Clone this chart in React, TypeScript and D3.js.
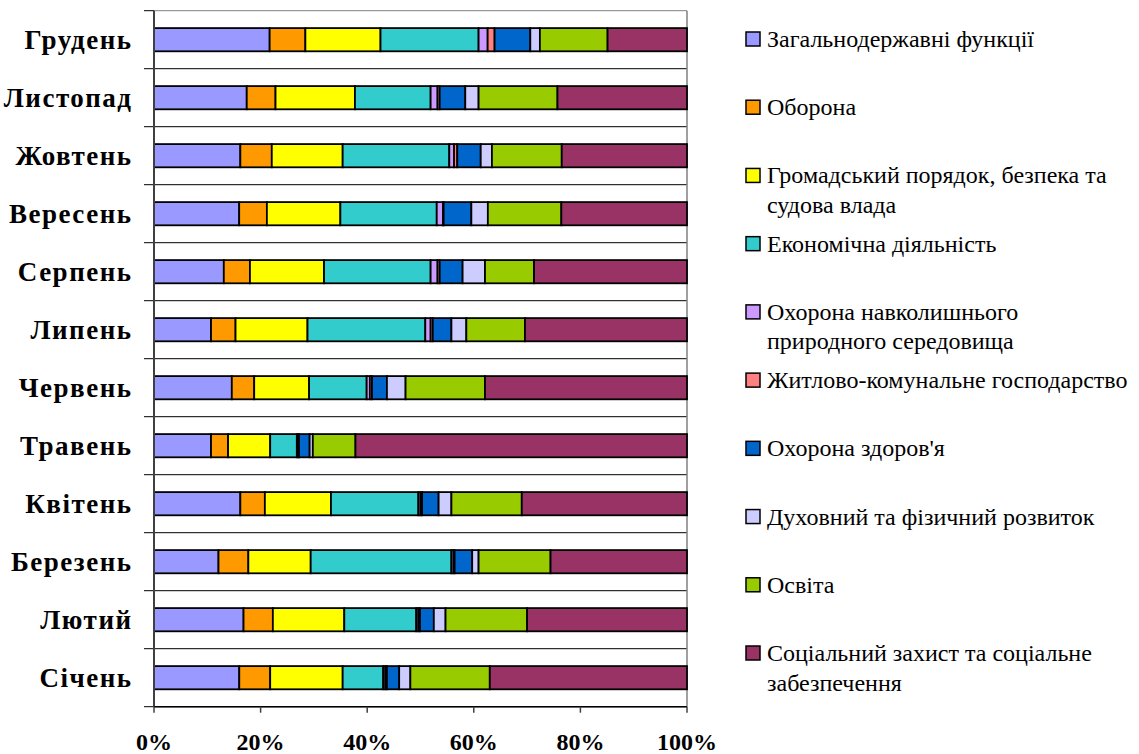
import React from "react";
import * as d3 from "d3";

const months = ["Січень", "Лютий", "Березень", "Квітень", "Травень", "Червень", "Липень", "Серпень", "Вересень", "Жовтень", "Листопад", "Грудень"];

const categories = [
  ["Загальнодержавні функції"],
  ["Оборона"],
  ["Громадський порядок, безпека та", "судова влада"],
  ["Економічна діяльність"],
  ["Охорона навколишнього", "природного середовища"],
  ["Житлово-комунальне господарство"],
  ["Охорона здоров'я"],
  ["Духовний та фізичний розвиток"],
  ["Освіта"],
  ["Соціальний захист та соціальне", "забезпечення"],
];

const colors = ["#9999FF", "#FF9900", "#FFFF00", "#33CCCC", "#CC99FF", "#FF8080", "#0066CC", "#CCCCFF", "#99CC00", "#993366"];

const zagalni = [16.0, 16.8, 12.1, 16.2, 10.7, 14.6, 10.7, 13.1, 16.0, 16.2, 17.4, 21.7];
const oborona = [5.8, 5.5, 5.6, 4.6, 3.2, 4.2, 4.6, 4.9, 5.2, 5.9, 5.4, 6.7];
const hromadskyi = [13.6, 13.4, 11.7, 12.4, 7.9, 10.3, 13.5, 13.9, 13.8, 13.3, 14.9, 14.1];
const ekonomichna = [7.6, 13.5, 26.4, 16.4, 5.0, 10.8, 22.1, 20.0, 18.1, 20.0, 14.2, 18.4];
const dovkillia = [0.4, 0.4, 0.4, 0.4, 0.3, 0.6, 1.0, 1.3, 1.2, 0.9, 1.3, 1.7];
const zhytlovo = [0.3, 0.3, 0.2, 0.3, 0.1, 0.4, 0.4, 0.4, 0.1, 0.6, 0.4, 1.3];
const zdorovia = [2.3, 2.6, 3.3, 3.1, 2.0, 2.8, 3.5, 4.3, 5.2, 4.4, 4.8, 6.7];
const dukhovnyi = [2.1, 2.2, 1.2, 2.4, 0.6, 3.5, 2.8, 4.2, 3.1, 2.1, 2.5, 1.8];
const osvita = [14.9, 15.3, 13.5, 13.2, 8.0, 14.9, 11.0, 9.2, 13.8, 13.1, 14.8, 12.7];
const sotsialnyi = [37.0, 30.0, 25.6, 31.0, 62.2, 37.9, 30.4, 28.7, 23.6, 23.5, 24.3, 14.9];

const seriesValues = [zagalni, oborona, hromadskyi, ekonomichna, dovkillia, zhytlovo, zdorovia, dukhovnyi, osvita, sotsialnyi];

const xTicks = [0, 0.2, 0.4, 0.6, 0.8, 1];

export default function App() {
  const W = 1139, H = 754;
  const left = 154, right = 687, top = 10.7, bottom = 706.7;

  const keys = categories.map((_, i) => "s" + i);
  const rows = months.map((m, mi) => {
    const r: any = { month: m };
    seriesValues.forEach((arr, si) => (r[keys[si]] = arr[mi]));
    return r;
  });
  const stacked = d3.stack().keys(keys).offset(d3.stackOffsetExpand)(rows);

  const order = [...months].reverse();
  const x = d3.scaleLinear().domain([0, 1]).range([left, right]);
  const y = d3.scaleBand().domain(order).range([top, bottom]).paddingInner(0.6).paddingOuter(0.3);
  const grid = d3.scaleLinear().domain([0, months.length]).range([top, bottom]);
  const gridIdx = d3.range(months.length + 1);

  const legendY = d3.scaleLinear().domain([0, categories.length - 1]).range([39, 653]);

  return (
    <svg width={W} height={H} style={{ position: "absolute", left: 0, top: 0, background: "#fff", fontFamily: "Liberation Serif, Times New Roman, serif" }}>
      {gridIdx.map((i) => (
        <line key={"g" + i} x1={left} x2={right} y1={grid(i)} y2={grid(i)} stroke={i === 0 ? "#808080" : "#000"} strokeWidth={1} />
      ))}
      {gridIdx.map((i) => (
        <line key={"lt" + i} x1={left - 10} x2={left} y1={grid(i)} y2={grid(i)} stroke="#000" strokeWidth={1} />
      ))}
      <line x1={right} x2={right} y1={top} y2={bottom} stroke="#808080" strokeWidth={1.5} />
      {stacked.map((s, si) => (
        <g key={"s" + si} fill={colors[si]}>
          {s.map((d: any, mi: number) => (
            <rect
              key={mi}
              x={x(d[0])}
              y={y(months[mi])}
              width={Math.max(0, x(d[1]) - x(d[0]))}
              height={y.bandwidth()}
              stroke="#000"
              strokeWidth={1.8}
            />
          ))}
        </g>
      ))}
      <line x1={left} x2={left} y1={top} y2={bottom} stroke="#404040" strokeWidth={2} />
      <line x1={left} x2={right} y1={bottom} y2={bottom} stroke="#000" strokeWidth={1.5} />
      {xTicks.map((t) => (
        <g key={"xt" + t}>
          <line x1={x(t)} x2={x(t)} y1={bottom} y2={bottom + 6} stroke="#404040" strokeWidth={1.5} />
          <text x={x(t)} y={750} textAnchor="middle" fontWeight="bold" fontSize={24}>
            {d3.format(".0%")(t)}
          </text>
        </g>
      ))}
      {months.map((m) => (
        <text
          key={m}
          x={132.5}
          y={(y(m) as number) + y.bandwidth() / 2 + 9.5}
          textAnchor="end"
          fontWeight="bold"
          fontSize={27}
          letterSpacing={1.5}
        >
          {m}
        </text>
      ))}
      {categories.map((lines, i) => (
        <g key={"lg" + i} transform={`translate(0,${legendY(i)})`}>
          <rect x={746} y={-7} width={14} height={14} fill={colors[i]} stroke="#000" strokeWidth={1.5} />
          {lines.map((ln, li) => (
            <text key={li} x={767} y={8 + li * 29.5} fontSize={24}>
              {ln}
            </text>
          ))}
        </g>
      ))}
    </svg>
  );
}
